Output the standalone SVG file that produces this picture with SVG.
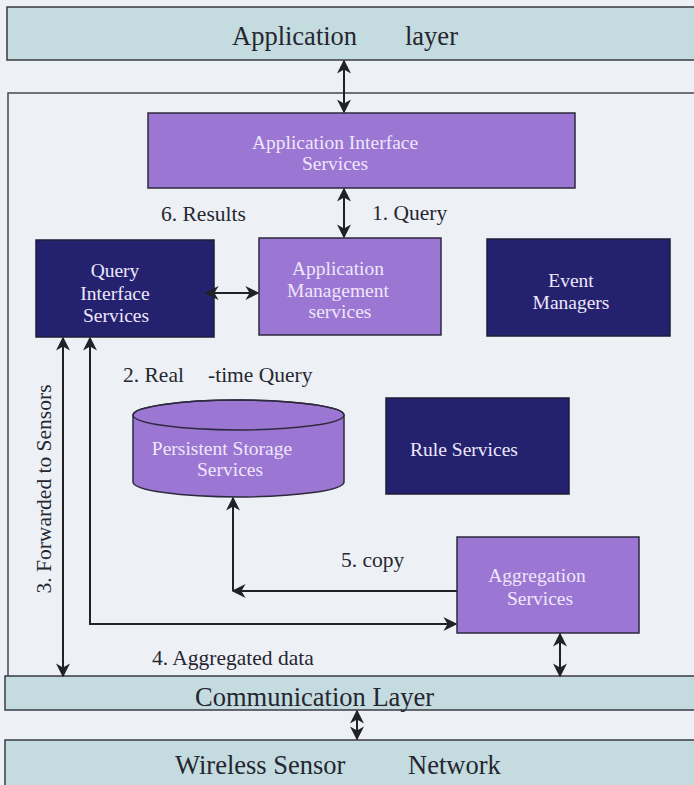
<svg xmlns="http://www.w3.org/2000/svg" width="694" height="785" viewBox="0 0 694 785">
  <style>
    .layer { fill: #c4dbdf; stroke: #3a3a44; stroke-width: 1.5; }
    .light { fill: #9b76d3; stroke: #2e2a3e; stroke-width: 1.5; }
    .dark { fill: #24226f; stroke: #1e1c3a; stroke-width: 1.5; }
    .btxt { font-family: "Liberation Serif", "Times New Roman", serif; font-size: 19.5px; fill: #efe7fb; text-anchor: middle; }
    .ltxt { font-family: "Liberation Serif", "Times New Roman", serif; font-size: 21.5px; fill: #262630; }
    .layertxt { font-family: "Liberation Serif", "Times New Roman", serif; font-size: 26.5px; fill: #262630; }
    .conn { fill: none; stroke: #222226; stroke-width: 2; }
  </style>
  <defs>
    <marker id="ah" viewBox="0 0 10 10" refX="9" refY="5" markerWidth="7" markerHeight="7" orient="auto-start-reverse" markerUnits="strokeWidth">
      <path d="M0,0 L10,5 L0,10 L3,5 Z" fill="#222226"/>
    </marker>
  </defs>
  <rect x="0" y="0" width="694" height="785" fill="#edf1f6"/>

  <g id="frame">
    <rect x="8" y="93" width="700" height="600" fill="none" stroke="#4a4656" stroke-width="1.5"/>
  </g>

  <g id="application-layer">
    <rect class="layer" x="7" y="7" width="700" height="53"/>
    <text class="layertxt" x="232" y="45">Application</text>
    <text class="layertxt" x="405" y="45">layer</text>
  </g>

  <g id="application-interface-services">
    <rect class="light" x="148" y="113" width="427" height="75"/>
    <text class="btxt" x="335" y="149">Application Interface</text>
    <text class="btxt" x="335" y="170">Services</text>
  </g>

  <g id="query-interface-services">
    <rect class="dark" x="36" y="240" width="178" height="97"/>
    <text class="btxt" x="115" y="277">Query</text>
    <text class="btxt" x="115" y="300">Interface</text>
    <text class="btxt" x="116" y="322">Services</text>
  </g>

  <g id="application-management-services">
    <rect class="light" x="259" y="238" width="182" height="97"/>
    <text class="btxt" x="338" y="275">Application</text>
    <text class="btxt" x="338" y="297">Management</text>
    <text class="btxt" x="340" y="318">services</text>
  </g>

  <g id="event-managers">
    <rect class="dark" x="487" y="239" width="183" height="97"/>
    <text class="btxt" x="571" y="287">Event</text>
    <text class="btxt" x="571" y="309">Managers</text>
  </g>

  <g id="persistent-storage-services">
    <path class="light" d="M133,415 A105.5,15 0 0,1 344,415 V482 A105.5,15 0 0,1 133,482 Z"/>
    <ellipse cx="238.5" cy="415" rx="105.5" ry="15" fill="none" stroke="#2e2a3e" stroke-width="1.5"/>
    <text class="btxt" x="222" y="455">Persistent Storage</text>
    <text class="btxt" x="230" y="476">Services</text>
  </g>

  <g id="rule-services">
    <rect class="dark" x="386" y="398" width="183" height="96"/>
    <text class="btxt" x="464" y="456">Rule Services</text>
  </g>

  <g id="aggregation-services">
    <rect class="light" x="457" y="537" width="182" height="96"/>
    <text class="btxt" x="537" y="582">Aggregation</text>
    <text class="btxt" x="540" y="605">Services</text>
  </g>

  <g id="communication-layer">
    <rect class="layer" x="5" y="676" width="700" height="34"/>
    <text class="layertxt" x="195" y="706">Communication Layer</text>
  </g>

  <g id="wireless-sensor-network">
    <rect class="layer" x="5" y="740" width="700" height="60"/>
    <text class="layertxt" x="175" y="774">Wireless Sensor</text>
    <text class="layertxt" x="408" y="774">Network</text>
  </g>

  <g id="connectors">
    <line class="conn" x1="344" y1="61" x2="344" y2="112" marker-start="url(#ah)" marker-end="url(#ah)"/>
    <line class="conn" x1="344" y1="189" x2="344" y2="237" marker-start="url(#ah)" marker-end="url(#ah)"/>
    <line class="conn" x1="206" y1="293" x2="258" y2="293" marker-start="url(#ah)" marker-end="url(#ah)"/>
    <line class="conn" x1="63" y1="338" x2="63" y2="676" marker-start="url(#ah)" marker-end="url(#ah)"/>
    <path class="conn" d="M90,338 V624 H456" marker-start="url(#ah)" marker-end="url(#ah)"/>
    <path class="conn" d="M457,591 H233" marker-end="url(#ah)"/>
    <path class="conn" d="M233,591 V498" marker-end="url(#ah)"/>
    <line class="conn" x1="560" y1="634" x2="560" y2="676" marker-start="url(#ah)" marker-end="url(#ah)"/>
    <line class="conn" x1="357" y1="711" x2="357" y2="739" marker-start="url(#ah)" marker-end="url(#ah)"/>
  </g>

  <g id="labels">
    <text class="ltxt" x="161" y="221">6. Results</text>
    <text class="ltxt" x="372" y="220">1. Query</text>
    <text class="ltxt" x="123" y="382">2. Real</text>
    <text class="ltxt" x="208" y="382">-time Query</text>
    <text class="ltxt" x="341" y="567">5. copy</text>
    <text class="ltxt" x="152" y="665">4. Aggregated data</text>
    <text class="ltxt" transform="translate(51,489) rotate(-90)" text-anchor="middle">3. Forwarded to Sensors</text>
  </g>
</svg>
